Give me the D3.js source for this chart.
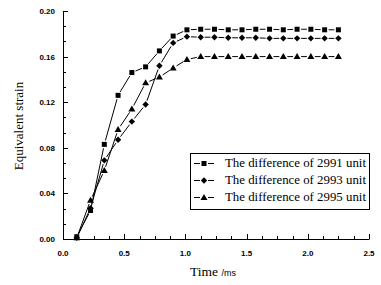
<!DOCTYPE html>
<html><head><meta charset="utf-8">
<script src="https://cdn.jsdelivr.net/npm/d3@7/dist/d3.min.js"></script>
<style>body{margin:0;background:#fff}svg{display:block}</style>
</head><body>
<svg id="c" width="381" height="285"></svg>
<script>
const times = [0.1125,0.225,0.3375,0.45,0.5625,0.675,0.7875,0.9,1.0125,1.125,1.2375,1.35,1.4625,1.575,1.6875,1.8,1.9125,2.025,2.1375,2.25];
const s2991 = [0.002,0.025,0.083,0.126,0.146,0.151,0.165,0.178,0.1835,0.184,0.184,0.1835,0.1835,0.184,0.184,0.1835,0.184,0.184,0.1835,0.1835];
const s2993 = [0.001,0.027,0.069,0.087,0.103,0.118,0.152,0.172,0.1775,0.177,0.177,0.1765,0.1765,0.1765,0.176,0.176,0.176,0.176,0.176,0.176];
const s2995 = [0.001,0.034,0.060,0.096,0.114,0.137,0.142,0.150,0.1575,0.160,0.160,0.160,0.160,0.160,0.160,0.160,0.160,0.160,0.160,0.160];
const seriesNames = ["The difference of 2991 unit","The difference of 2993 unit","The difference of 2995 unit"];
const markerTypes = ["square","diamond","triangle"];
const xTicks = [0.0,0.5,1.0,1.5,2.0,2.5];
const yTicks = [0.00,0.04,0.08,0.12,0.16,0.20];

const svg = d3.select("#c");
const x = d3.scaleLinear().domain([0,2.5]).range([63,369]);
const y = d3.scaleLinear().domain([0,0.2]).range([239,11]);

const g = svg.append("g");
g.append("line").attr("x1",x(0)+0.5).attr("x2",x(0)+0.5).attr("y1",y(0)).attr("y2",y(0.2)).attr("stroke","#000");
g.append("line").attr("x1",x(0)).attr("x2",x(2.5)+0.5).attr("y1",y(0)+0.5).attr("y2",y(0)+0.5).attr("stroke","#000");

const yMinor=[];
for(let i=0;i<yTicks.length-1;i++){for(let j=1;j<3;j++){yMinor.push(yTicks[i]+(yTicks[i+1]-yTicks[i])*j/3);}}
g.selectAll(".ymaj").data(yTicks).join("line").attr("x1",x(0)).attr("x2",x(0)+5).attr("y1",d=>Math.round(y(d))+0.5).attr("y2",d=>Math.round(y(d))+0.5).attr("stroke","#000");
g.selectAll(".ymin").data(yMinor).join("line").attr("x1",x(0)).attr("x2",x(0)+3).attr("y1",d=>Math.round(y(d))+0.5).attr("y2",d=>Math.round(y(d))+0.5).attr("stroke","#000");
g.selectAll(".ylab").data(yTicks).join("text").attr("x",55).attr("y",d=>y(d)+3).attr("text-anchor","end")
 .attr("font-family","'Liberation Sans',Arial,sans-serif").attr("font-weight","bold").attr("font-size","8px").text(d=>d.toFixed(2));

const xMinor=[];
for(let i=0;i<xTicks.length-1;i++){for(let j=1;j<4;j++){xMinor.push(xTicks[i]+(xTicks[i+1]-xTicks[i])*j/4);}}
g.selectAll(".xmaj").data(xTicks).join("line").attr("x1",d=>Math.round(x(d))+0.5).attr("x2",d=>Math.round(x(d))+0.5).attr("y1",y(0)).attr("y2",y(0)-5).attr("stroke","#000");
g.selectAll(".xmin").data(xMinor).join("line").attr("x1",d=>Math.round(x(d))+0.5).attr("x2",d=>Math.round(x(d))+0.5).attr("y1",y(0)).attr("y2",y(0)-3).attr("stroke","#000");
g.selectAll(".xlab").data(xTicks).join("text").attr("x",d=>x(d)).attr("y",256).attr("text-anchor","middle")
 .attr("font-family","'Liberation Sans',Arial,sans-serif").attr("font-weight","bold").attr("font-size","8px").text(d=>d.toFixed(1));

svg.append("text").attr("transform","translate(23,126) rotate(-90)").attr("text-anchor","middle")
 .attr("font-family","'Liberation Serif','Times New Roman',serif").attr("font-size","13px").text("Equivalent strain");
const xt = svg.append("text").attr("x",190).attr("y",276).attr("font-family","'Liberation Serif','Times New Roman',serif").attr("font-size","13.5px");
xt.append("tspan").text("Time ");
xt.append("tspan").attr("font-family","'Liberation Sans',Arial,sans-serif").attr("font-size","9px").text("/ms");

function marker(sel,type,cx,cy){
  if(type==="square") sel.append("rect").attr("x",cx-2.5).attr("y",cy-2.5).attr("width",5).attr("height",5).attr("fill","#000");
  else if(type==="diamond") sel.append("path").attr("d",`M${cx},${cy-3.2}L${cx+3.2},${cy}L${cx},${cy+3.2}L${cx-3.2},${cy}Z`).attr("fill","#000");
  else sel.append("path").attr("d",`M${cx},${cy-3.5}L${cx+3.5},${cy+2.5}L${cx-3.5},${cy+2.5}Z`).attr("fill","#000");
}

const allSeries=[s2991,s2993,s2995];
const gap=4;
allSeries.forEach((vals,si)=>{
  const pts = times.map((t,i)=>[x(t),y(vals[i])]);
  const sg = svg.append("g");
  for(let i=0;i<pts.length-1;i++){
    const [x1,y1]=pts[i],[x2,y2]=pts[i+1];
    const dx=x2-x1,dy=y2-y1,L=Math.hypot(dx,dy);
    if(L<=2*gap) continue;
    const ux=dx/L,uy=dy/L;
    sg.append("line").attr("x1",x1+ux*gap).attr("y1",y1+uy*gap).attr("x2",x2-ux*gap).attr("y2",y2-uy*gap).attr("stroke","#000").attr("stroke-width",1);
  }
  pts.forEach(p=>marker(sg,markerTypes[si],p[0],p[1]));
});

const lg = svg.append("g");
lg.append("rect").attr("x",190.5).attr("y",153.5).attr("width",179).attr("height",56).attr("fill","#fff").attr("stroke","#000");
const rowsY=[163,180,197];
seriesNames.forEach((n,i)=>{
  const yy=rowsY[i];
  lg.append("line").attr("x1",194).attr("x2",200).attr("y1",yy+0.5).attr("y2",yy+0.5).attr("stroke","#000");
  lg.append("line").attr("x1",208).attr("x2",214).attr("y1",yy+0.5).attr("y2",yy+0.5).attr("stroke","#000");
  marker(lg,markerTypes[i],204,yy+0.5);
  lg.append("text").attr("x",225).attr("y",yy+4).attr("font-family","'Liberation Serif','Times New Roman',serif").attr("font-size","12.5px")
    .attr("textLength",141).attr("lengthAdjust","spacingAndGlyphs").text(n);
});
</script>
</body></html>
